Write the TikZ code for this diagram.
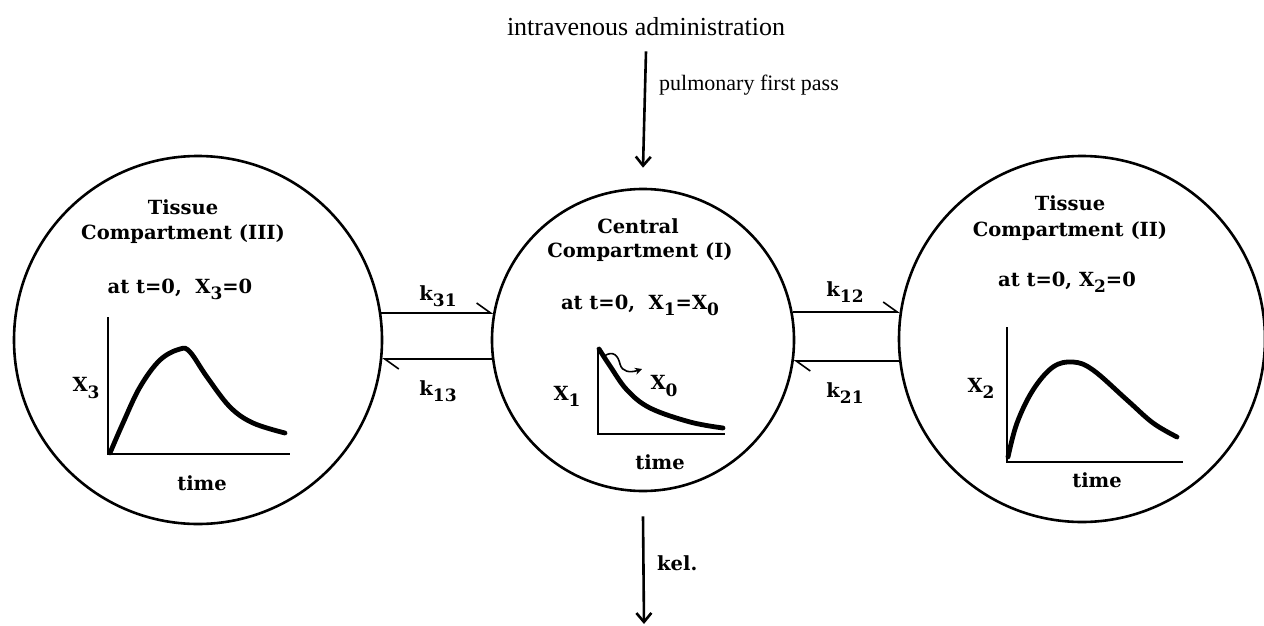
\documentclass[tikz,border=0pt]{standalone}
\usepackage{fontspec}
\setmainfont{Liberation Serif}
\newfontfamily\bsf{DejaVu Serif}
\usetikzlibrary{arrows.meta}
\newcommand{\lsub}[1]{\raisebox{-0.6ex}{\fontsize{17}{17}\selectfont #1}}
\tikzset{
  comp/.style={circle, draw, line width=2.6pt, inner sep=0pt},
  lbl/.style={inner sep=1pt, font=\bsf\bfseries\fontsize{19.5}{22}\selectfont},
  plain/.style={inner sep=1pt, font=\fontsize{26}{30}\selectfont},
  axis/.style={line width=2pt},
  curve/.style={line width=4.8pt, line cap=round, line join=round},
  flow/.style={line width=1.6pt, -{Straight Barb[left,length=14pt,width=20pt,line width=1.6pt]}},
  bigarrow/.style={line width=2.6pt, -{Straight Barb[length=9pt,width=15pt,line width=2.6pt]}},
}
\begin{document}
\begin{tikzpicture}[x=1pt,y=-1pt]
\useasboundingbox (0,0) rectangle (1264,626);

% compartments
\node[comp, minimum size=368pt] (c3) at (198,340) {};
\node[comp, minimum size=302pt] (c1) at (643,340) {};
\node[comp, minimum size=366pt] (c2) at (1082,339) {};

% top / bottom
\node[plain] (iv) at (646,27) {intravenous administration};
\node[plain, anchor=west, font=\fontsize{22}{26}\selectfont] (pfp) at (658,85) {pulmonary first pass};
\draw[bigarrow] ([yshift=-14pt]iv.south) -- ([yshift=20pt]c1.north);
\coordinate (sink) at (644,624);
\draw[bigarrow] ([yshift=-24pt]c1.south) -- (sink);
\node[lbl, anchor=west] (kel) at (656,563) {kel.};

% exchange arrows
\draw[flow] ([xshift=183.3pt,yshift=27pt]c3.center) -- ([xshift=-149.9pt,yshift=27pt]c1.center);
\draw[flow] ([xshift=-151.1pt,yshift=-19pt]c1.center) -- ([xshift=184.3pt,yshift=-19pt]c3.center);
\draw[flow] ([xshift=149.7pt,yshift=28pt]c1.center) -- ([xshift=-182.3pt,yshift=27pt]c2.center);
\draw[flow] ([xshift=-183pt,yshift=-22pt]c2.center) -- ([xshift=150.8pt,yshift=-21pt]c1.center);
\node[lbl] (k31) at (438,296) {k\lsub{31}};
\node[lbl] (k13) at (438,391) {k\lsub{13}};
\node[lbl] (k12) at (845,292) {k\lsub{12}};
\node[lbl] (k21) at (845,393) {k\lsub{21}};

% left compartment (III)
\node[lbl] (t3a) at (183,207) {Tissue};
\node[lbl] (t3b) at (183,234) {Compartment (III)};
\node[lbl] (t3c) at (180,289) {at t=0,\ \ X\lsub{3}=0};
\node[lbl] (x3) at (86,388) {X\lsub{3}};
\node[lbl] (tm3) at (202,483) {time};
\draw[axis] (108,317) -- (108,454) -- (290,454);
\draw[curve] plot[smooth, tension=0.6] coordinates {(110,453) (123,423) (140,387) (160,360) (180,349) (190,352) (207,377) (230,407) (253,423) (285,433)};

% central compartment (I)
\node[lbl] (t1a) at (638,226) {Central};
\node[lbl] (t1b) at (640,252) {Compartment (I)};
\node[lbl] (t1c) at (640,305) {at t=0,\ \ X\lsub{1}=X\lsub{0}};
\node[lbl] (x1) at (567,396) {X\lsub{1}};
\node[lbl] (x0) at (664,386) {X\lsub{0}};
\node[lbl] (tm1) at (660,462) {time};
\draw[axis] (598,348) -- (598,434) -- (725,434);
\draw[curve] plot[smooth, tension=0.6] coordinates {(599,349) (610,366) (627,390) (650,408) (690,422) (723,428)};
\draw[line width=1.6pt, -{Stealth[length=7pt,width=7pt]}] (604,356) .. controls (614,350) and (618,356) .. (620,364) .. controls (622,372) and (630,373) .. (642,369);

% right compartment (II)
\node[lbl] (t2a) at (1070,203) {Tissue};
\node[lbl] (t2b) at (1070,231) {Compartment (II)};
\node[lbl] (t2c) at (1067,282) {at t=0, X\lsub{2}=0};
\node[lbl] (x2) at (981,388) {X\lsub{2}};
\node[lbl] (tm2) at (1097,480) {time};
\draw[axis] (1007,327) -- (1007,462) -- (1183,462);
\draw[curve] plot[smooth, tension=0.6] coordinates {(1008,457) (1017,423) (1033,390) (1053,367) (1073,362) (1093,370) (1127,400) (1153,423) (1177,437)};
\end{tikzpicture}
\end{document}
